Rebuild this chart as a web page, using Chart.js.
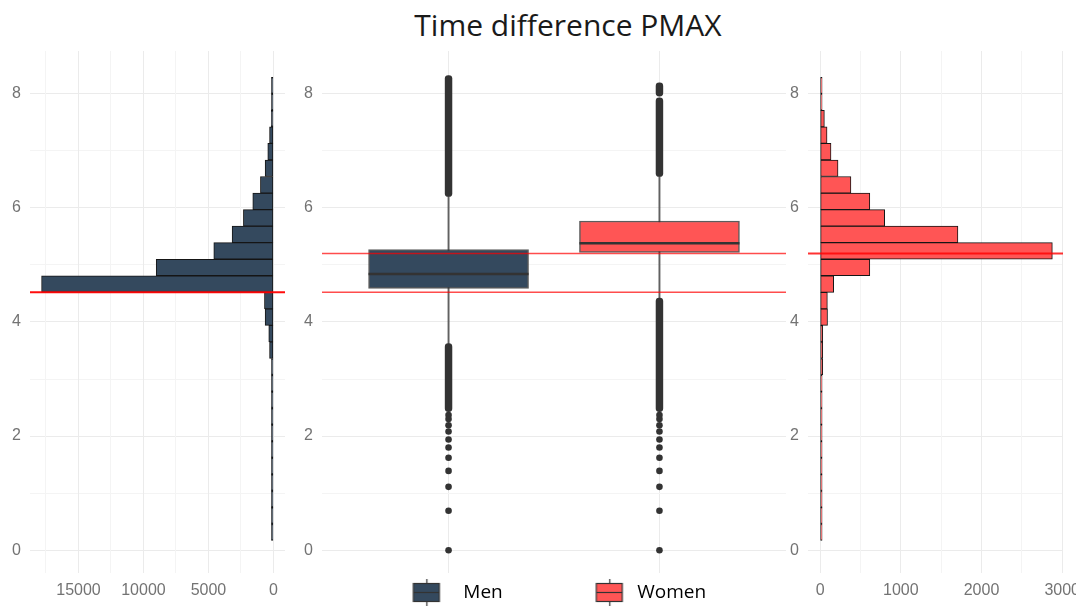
<!DOCTYPE html>
<html>
<head>
<meta charset="utf-8">
<script src="https://cdn.jsdelivr.net/npm/chart.js@4.4.1/dist/chart.umd.min.js"></script>
<style>
  html, body { margin: 0; padding: 0; background: #fff; overflow: hidden; }
  #wrap { position: relative; width: 1082px; height: 607px; }
  .panel { position: absolute; top: 0; }
  #rightClip { position: absolute; top: 0; left: 780px; width: 296px; height: 607px; overflow: hidden; }
  #title { position: absolute; left: 268px; width: 600px; top: 10px; text-align: center;
           font: 30px/30px 'Open Sans'; color: #1a1a1a; }
</style>
</head>
<body>
<div id="wrap">
  <div id="title">Time difference PMAX</div>
  <canvas id="leftChart" class="panel" width="290" height="607" style="left:0"></canvas>
  <canvas id="midChart" class="panel" width="534" height="612" style="left:256px"></canvas>
  <div id="rightClip"><canvas id="rightChart" width="340" height="607"></canvas></div>
</div>
<script>
// histogram bins (centres of 0.29 wide bins) and counts
const binCenters = [0.315, 0.605, 0.895, 1.185, 1.475, 1.765, 2.055, 2.345, 2.635, 2.925,
                    3.215, 3.505, 3.795, 4.085, 4.375, 4.665, 4.955, 5.245, 5.535, 5.825,
                    6.115, 6.405, 6.695, 6.985, 7.275, 7.565, 7.855, 8.145];
const menCounts = [10, 90, 3, 20, 25, 25, 30, 35, 40, 45, 55, 300, 360, 640, 690,
                   17840, 9020, 4590, 3180, 2310, 1590, 1000, 640, 436, 300, 170, 60, 30];
const womenCounts = [2, 2, 2, 2, 3, 6, 6, 7, 8, 15, 33, 33, 33, 92, 90,
                     168, 616, 2878, 1708, 800, 616, 382, 222, 135, 86, 53, 20, 5];

// boxplot
const groups = ['Men', 'Women'];
const groupPos = [1, 2];
const q1 = [4.59, 5.22];
const medians = [4.84, 5.38];
const q3 = [5.27, 5.77];
const whiskerLow = [3.62, 4.42];
const whiskerHigh = [6.2, 6.55];
// dense runs of outliers (drawn as one stroke) and single outliers
const outlierRuns = [[[6.2, 8.32], [2.43, 3.62]], [[6.55, 7.93], [7.96, 8.19], [2.43, 4.42]]];
const outlierPoints = [[2.37, 2.30, 2.19, 2.08, 1.94, 1.80, 1.62, 1.39, 1.11, 0.69, 0.0],
                       [2.37, 2.30, 2.19, 2.08, 1.94, 1.80, 1.62, 1.39, 1.11, 0.69, 0.0]];

// reference lines
const refMen = 4.52;
const refWomen = 5.2;

// tick labels
const yTicks = [0, 2, 4, 6, 8];
const menTicks = [0, 5000, 10000, 15000];
const womenTicks = [0, 1000, 2000, 3000];

const menColor = '#34495e';
const womenColor = '#ff5555';
const major = '#ebebeb';
const minor = '#f4f4f4';
const tickFont = { family: 'Liberation Sans', size: 16 };
const tickColor = '#737373';

const refLinePlugin = {
  id: 'refLines',
  afterDatasetsDraw(chart, args, opts) {
    const ctx = chart.ctx;
    const area = chart.chartArea;
    const ys = chart.scales.y;
    ctx.save();
    // median lines of the boxes
    chart.data.datasets.forEach((ds, i) => {
      if (!ds.medianValues) return;
      chart.getDatasetMeta(i).data.forEach((el, j) => {
        const y = ys.getPixelForValue(ds.medianValues[j]);
        ctx.strokeStyle = '#333';
        ctx.lineWidth = 2.5;
        ctx.beginPath();
        ctx.moveTo(el.x - el.width / 2, y);
        ctx.lineTo(el.x + el.width / 2, y);
        ctx.stroke();
      });
    });
    (opts.values || []).forEach(v => {
      const y = ys.getPixelForValue(v);
      ctx.strokeStyle = opts.color;
      ctx.lineWidth = opts.width;
      ctx.beginPath();
      ctx.moveTo(area.left, y);
      ctx.lineTo(area.right, y);
      ctx.stroke();
    });
    ctx.restore();
  }
};

// grid positions every `step` inside [min, max]
function stepTicks(min, max, step) {
  const out = [];
  for (let v = Math.ceil(min / step) * step; v <= max; v += step) out.push({ value: v });
  return out;
}

function yAxis(width) {
  return {
    type: 'linear', min: -0.4, max: 8.75, offset: false, stacked: false,
    afterBuildTicks: s => { s.ticks = stepTicks(-0.4, 8.75, 1); },
    afterFit: s => { s.width = width; },
    ticks: { autoSkip: false, padding: 9, color: tickColor, font: tickFont,
             callback: v => yTicks.includes(v) ? v : '' },
    grid: { offset: false, drawTicks: false, color: c => (c.tick && c.tick.value % 2 === 0) ? major : minor },
    border: { display: false }
  };
}

function countAxis(min, max, step, labels, reverse) {
  return {
    type: 'linear', min: min, max: max, reverse: reverse,
    afterBuildTicks: s => { s.ticks = stepTicks(min, max, step); },
    afterFit: s => { s.height = 34; },
    ticks: { autoSkip: false, maxRotation: 0, padding: 8, color: tickColor, font: tickFont,
             callback: v => labels.includes(v) ? v : '' },
    grid: { drawTicks: false, color: c => (c.tick && labels.includes(c.tick.value)) ? major : minor },
    border: { display: false }
  };
}

function histogram(id, counts, color, xAxis, yWidth, pad, refs) {
  return new Chart(document.getElementById(id), {
    type: 'bar',
    data: {
      datasets: [{
        data: binCenters.map((b, i) => ({ x: counts[i], y: b })),
        backgroundColor: color,
        borderColor: '#151515',
        borderWidth: 1,
        borderSkipped: false,
        minBarLength: 2,
        categoryPercentage: 1,
        barPercentage: 1
      }]
    },
    options: {
      indexAxis: 'y',
      responsive: false,
      animation: false,
      layout: { padding: pad },
      plugins: {
        legend: { display: false },
        tooltip: { enabled: false },
        refLines: refs
      },
      scales: { y: yAxis(yWidth), x: xAxis }
    },
    plugins: [refLinePlugin]
  });
}

histogram('leftChart', menCounts, menColor, countAxis(-890, 18730, 2500, menTicks, true), 30,
  { top: 51, right: 5, left: 0, bottom: 0 }, { values: [refMen], color: 'rgba(255,0,0,0.95)', width: 2 });

histogram('rightChart', womenCounts, womenColor, countAxis(-150, 3010, 500, womenTicks, false), 28,
  { top: 51, right: 57, left: 0, bottom: 0 }, { values: [refWomen], color: 'rgba(255,0,0,0.8)', width: 1.8 });

// legend key: small boxplot glyph, shifted right inside a wider transparent canvas
function keyGlyph(fill, shift) {
  const c = document.createElement('canvas');
  c.width = 2 * (shift + 15);
  c.height = 27;
  const g = c.getContext('2d');
  const cx = Math.round(c.width / 2 + shift);
  g.strokeStyle = '#333';
  g.lineWidth = 1.2;
  g.beginPath(); g.moveTo(cx + 0.5, 0); g.lineTo(cx + 0.5, 27); g.stroke();
  g.fillStyle = fill;
  g.fillRect(cx - 13, 4.5, 26, 18);
  g.strokeRect(cx - 13, 4.5, 26, 18);
  g.beginPath(); g.moveTo(cx - 13, 13.5); g.lineTo(cx + 13, 13.5); g.stroke();
  return c;
}
const keys = [keyGlyph(menColor, 30), keyGlyph(womenColor, 39)];
const boxColors = [menColor, womenColor];

const boxSets = groups.map((g, i) => ({
  label: g,
  data: [{ x: groupPos[i], y: [q1[i], q3[i]] }],
  medianValues: [medians[i]],
  backgroundColor: boxColors[i],
  borderColor: 'rgba(51,51,51,0.8)',
  borderWidth: 1.5,
  borderSkipped: false,
  barThickness: 160,
  stack: 'box',
  order: 3 + i
}));

new Chart(document.getElementById('midChart'), {
  type: 'bar',
  data: {
    datasets: boxSets.concat([
      {
        label: 'whiskers',
        data: groups.map((g, i) => ({ x: groupPos[i], y: [whiskerLow[i], whiskerHigh[i]] })),
        backgroundColor: 'rgba(51,51,51,0.75)',
        borderWidth: 0,
        barThickness: 1.3,
        stack: 'box',
        order: 6
      },
      {
        label: 'outlier runs',
        data: outlierRuns.flatMap((runs, i) => runs.map(r => ({ x: groupPos[i], y: r }))),
        backgroundColor: '#333',
        borderWidth: 0,
        borderSkipped: false,
        borderRadius: 3.4,
        barThickness: 6.8,
        stack: 'box',
        order: 1
      },
      {
        type: 'scatter',
        label: 'outliers',
        data: outlierPoints.flatMap((pts, i) => pts.map(v => ({ x: groupPos[i], y: v }))),
        backgroundColor: '#333',
        borderWidth: 0,
        pointRadius: 3.3,
        order: 0
      }
    ])
  },
  options: {
    responsive: false,
    animation: false,
    layout: { padding: { top: 51, right: 1, left: 0, bottom: 0 } },
    plugins: {
      tooltip: { enabled: false },
      refLines: { values: [refMen, refWomen], color: 'rgba(255,0,0,0.7)', width: 1.5 },
      legend: {
        display: true,
        position: 'bottom',
        align: 'center',
        labels: {
          usePointStyle: true,
          pointStyleWidth: 115,
          padding: 10,
          color: '#1a1a1a',
          font: { family: 'Open Sans', size: 19 },
          generateLabels: () => groups.map((g, i) => ({
            text: g, pointStyle: keys[i], fillStyle: boxColors[i],
            strokeStyle: 'rgba(0,0,0,0)', lineWidth: 0, hidden: false, datasetIndex: i
          }))
        }
      }
    },
    scales: {
      x: {
        type: 'linear', min: 0.4, max: 2.6, offset: false,
        afterBuildTicks: s => { s.ticks = groupPos.map(v => ({ value: v })); },
        ticks: { display: false },
        grid: { offset: false, drawTicks: false, color: major },
        border: { display: false }
      },
      y: yAxis(66)
    }
  },
  plugins: [refLinePlugin]
});
</script>
</body>
</html>
